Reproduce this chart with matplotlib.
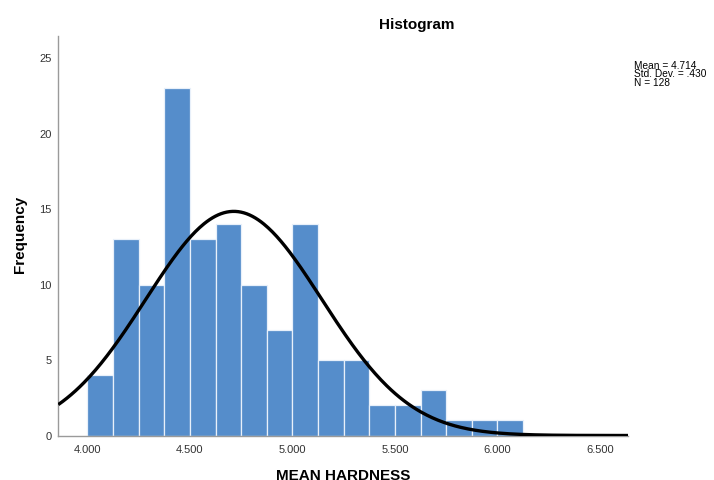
import numpy as np
import matplotlib
matplotlib.use("Agg")
import matplotlib.pyplot as plt

# Ширина бина и левые края столбиков (по оси MEAN HARDNESS)
bin_width = 0.125
bin_left = [4.000, 4.125, 4.250, 4.375, 4.500, 4.625, 4.750, 4.875, 5.000,
            5.125, 5.250, 5.375, 5.500, 5.625, 5.750, 5.875, 6.000]
counts = [4, 13, 10, 23, 13, 14, 10, 7, 14, 5, 5, 2, 2, 3, 1, 1, 1]

# Показатели из подписи справа
mean_val = 4.714
std_val = 0.430
n_val = 128

x_ticks = [4.0, 4.5, 5.0, 5.5, 6.0, 6.5]
x_tick_labels = ["4.000", "4.500", "5.000", "5.500", "6.000", "6.500"]
y_ticks = [0, 5, 10, 15, 20, 25]

plt.rcParams['font.family'] = ['Liberation Sans', 'DejaVu Sans']

fig = plt.figure(figsize=(7.14, 4.8), dpi=100)
ax = fig.add_axes([58.3 / 714, 1 - 435.5 / 480, (628 - 58.3) / 714, (435.5 - 36) / 480])

ax.bar(bin_left, counts, width=bin_width, align='edge',
       color='#558dcb', edgecolor='#e8f0fa', linewidth=0.9, zorder=2)

# Нормальная кривая по среднему и ст. отклонению
xlo, xhi = 3.858, 6.637
xs = np.linspace(xlo, xhi, 400)
pdf = np.exp(-0.5 * ((xs - mean_val) / std_val) ** 2) / (std_val * np.sqrt(2 * np.pi))
ax.plot(xs, pdf * n_val * bin_width, color='black', linewidth=2.4, zorder=3,
        solid_capstyle='butt')

ax.set_xlim(xlo, xhi)
ax.set_ylim(0, 26.46)
ax.set_xticks(x_ticks)
ax.set_xticklabels(x_tick_labels)
ax.set_yticks(y_ticks)
ax.tick_params(axis='both', length=0, labelsize=8, colors='#333333')
ax.tick_params(axis='x', pad=7)
ax.tick_params(axis='y', pad=5)

for side in ['top', 'right']:
    ax.spines[side].set_visible(False)
for side in ['left', 'bottom']:
    ax.spines[side].set_color('#9a9a9a')
    ax.spines[side].set_linewidth(1.0)

fig.text(417 / 714, 1 - 29 / 480, 'Histogram', ha='center', va='baseline',
         fontsize=11, fontweight='bold', color='black')
fig.text(20 / 714, 1 - 234 / 480, 'Frequency', ha='center', va='center',
         rotation=90, fontsize=11, fontweight='bold', color='black')
fig.text(343 / 714, 1 - 469.5 / 480, 'MEAN HARDNESS', ha='center', va='top',
         fontsize=11, fontweight='bold', color='black')

stats_text = '\n'.join([f'Mean = {mean_val:.3f}',
                        'Std. Dev. = ' + f'{std_val:.3f}'.lstrip('0'),
                        f'N = {n_val}'])
fig.text(634 / 714, 1 - 61 / 480, stats_text, ha='left', va='top',
         fontsize=7.3, linespacing=0.8, color='black')

fig.savefig('out.png', dpi=100)
